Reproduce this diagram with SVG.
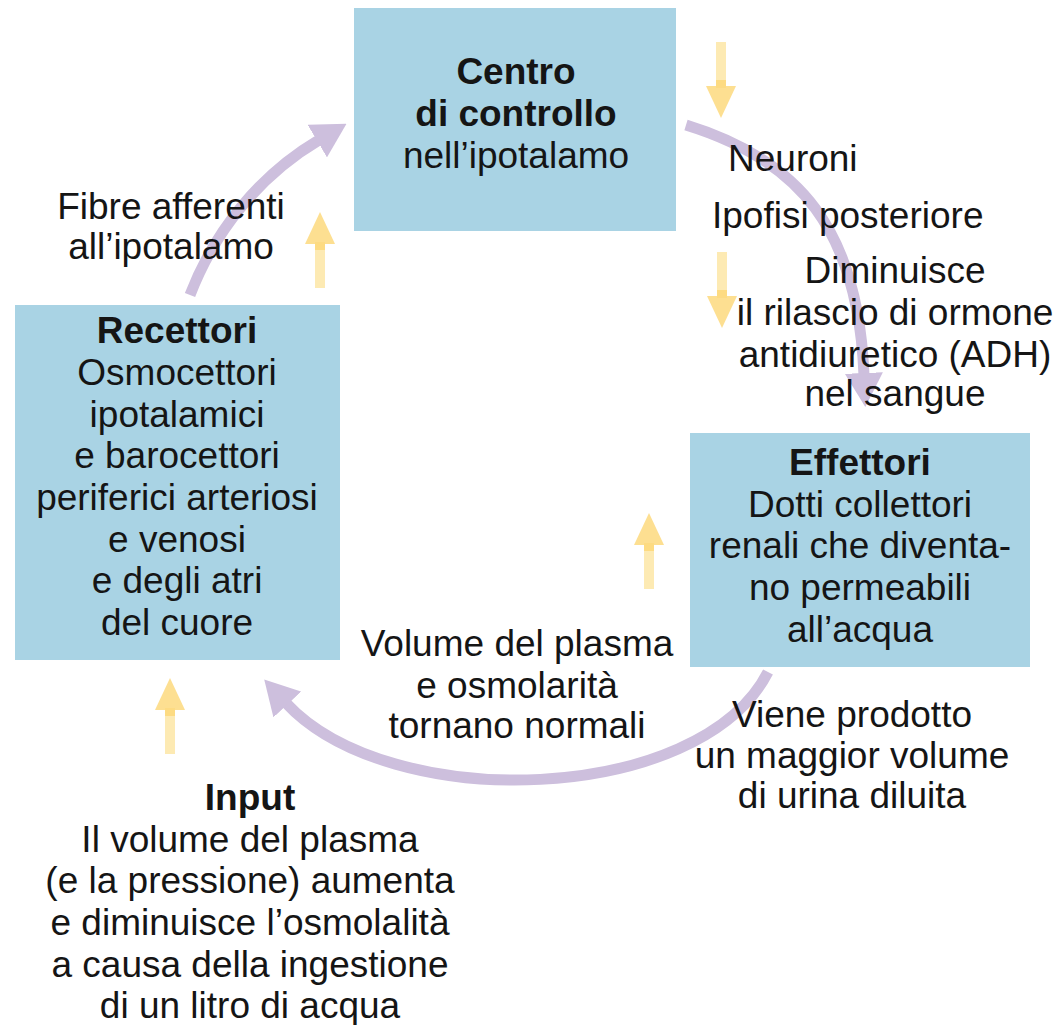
<svg xmlns="http://www.w3.org/2000/svg" width="1059" height="1025" viewBox="0 0 1059 1025">
<style>
.t{font-family:"Liberation Sans",Arial,Helvetica,sans-serif;font-size:37px;fill:#151515;text-anchor:middle}
.s{text-anchor:start}
.b{font-weight:bold}
.box{fill:#a9d3e4}
.pc{fill:none;stroke:#cdbfdd;stroke-width:11}
.yh{fill:#fcd775;opacity:.8}
.ys{fill:#fde6a6;opacity:.85}
</style>
<defs>
<marker id="ap" markerUnits="userSpaceOnUse" viewBox="0 0 34 38" markerWidth="34" markerHeight="38" refX="2" refY="19" orient="auto">
<path d="M0,0 L34,19 L0,38 Z" fill="#cdbfdd"/>
</marker>
<g id="ya">
<rect class="ys" x="-5" y="30" width="10" height="46"/>
<path class="yh" d="M0,0 L15,32 L5,32 L5,38 L-5,38 L-5,32 L-15,32 Z"/>
</g>
</defs>
<rect width="1059" height="1025" fill="#ffffff"/>

<g id="connectors">
<path class="pc" d="M190,295 C215,230 260,175 319,140" marker-end="url(#ap)"/>
<path class="pc" d="M686,125 C800,160 858,230 864,375" marker-end="url(#ap)"/>
<path class="pc" d="M768,672 C700,805 390,815 286,703" marker-end="url(#ap)"/>
<use href="#ya" transform="translate(721,118) rotate(180)"/>
<use href="#ya" transform="translate(722,328) rotate(180)"/>
<use href="#ya" transform="translate(320,212)"/>
<use href="#ya" transform="translate(649,513)"/>
<use href="#ya" transform="translate(170,678)"/>
</g>

<g id="centro">
<rect class="box" x="354" y="8" width="322" height="223"/>
<text class="t b" x="516" y="84">Centro</text>
<text class="t b" x="516" y="126">di controllo</text>
<text class="t" x="516" y="168">nell’ipotalamo</text>
</g>

<g id="recettori">
<rect class="box" x="15" y="305" width="325" height="355"/>
<text class="t b" x="177" y="343">Recettori</text>
<text class="t" x="177" y="385">Osmocettori</text>
<text class="t" x="177" y="427">ipotalamici</text>
<text class="t" x="177" y="468">e barocettori</text>
<text class="t" x="177" y="510">periferici arteriosi</text>
<text class="t" x="177" y="552">e venosi</text>
<text class="t" x="177" y="593">e degli atri</text>
<text class="t" x="177" y="635">del cuore</text>
</g>

<g id="effettori">
<rect class="box" x="690" y="433" width="340" height="234"/>
<text class="t b" x="860" y="475">Effettori</text>
<text class="t" x="860" y="517">Dotti collettori</text>
<text class="t" x="860" y="558">renali che diventa-</text>
<text class="t" x="860" y="600">no permeabili</text>
<text class="t" x="860" y="642">all’acqua</text>
</g>

<g id="fibre">
<text class="t" x="171" y="219">Fibre afferenti</text>
<text class="t" x="171" y="259">all’ipotalamo</text>
</g>

<g id="neuroni">
<text class="t s" x="728" y="171">Neuroni</text>
</g>
<g id="ipofisi">
<text class="t s" x="712" y="228">Ipofisi posteriore</text>
</g>
<g id="adh">
<text class="t" x="895" y="283">Diminuisce</text>
<text class="t" x="895" y="325">il rilascio di ormone</text>
<text class="t" x="895" y="367">antidiuretico (ADH)</text>
<text class="t" x="895" y="406">nel sangue</text>
</g>

<g id="volume">
<text class="t" x="517" y="656">Volume del plasma</text>
<text class="t" x="517" y="698">e osmolarità</text>
<text class="t" x="517" y="738">tornano normali</text>
</g>

<g id="urina">
<text class="t" x="852" y="727">Viene prodotto</text>
<text class="t" x="852" y="768">un maggior volume</text>
<text class="t" x="852" y="808">di urina diluita</text>
</g>

<g id="input">
<text class="t b" x="250" y="810">Input</text>
<text class="t" x="250" y="852">Il volume del plasma</text>
<text class="t" x="250" y="893">(e la pressione) aumenta</text>
<text class="t" x="250" y="935">e diminuisce l’osmolalità</text>
<text class="t" x="250" y="977">a causa della ingestione</text>
<text class="t" x="250" y="1018">di un litro di acqua</text>
</g>
</svg>
